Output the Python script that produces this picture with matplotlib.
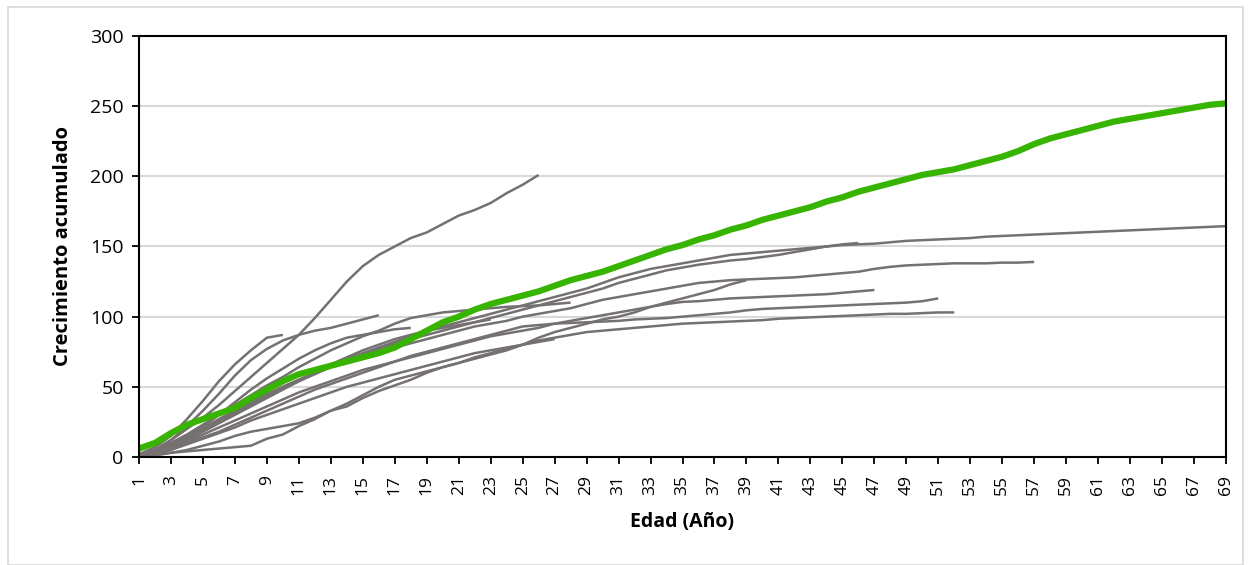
import numpy as np
import matplotlib
matplotlib.use("Agg")
import matplotlib.pyplot as plt
from matplotlib.patches import Rectangle

plt.rcParams['font.family'] = ['Open Sans', 'DejaVu Sans']

# edad (años) 1..69
edad = list(range(1, 70))

# curva promedio (verde)
promedio = [6, 10, 17, 23, 27, 31, 35, 42, 48, 54, 59, 62, 65, 68, 71, 74, 78, 84, 90, 96,
            100, 105, 109, 112, 115, 118, 122, 126, 129, 132, 136, 140, 144, 148, 151, 155, 158, 162, 165, 169,
            172, 175, 178, 182, 185, 189, 192, 195, 198, 201, 203, 205, 208, 211, 214, 218, 223, 227, 230, 233,
            236, 239, 241, 243, 245, 247, 249, 251, 252]

# arboles individuales (grises), cada uno empieza en edad 1
arbol_a = [1, 5, 12, 20, 28, 37, 47, 57, 67, 77, 87, 99, 112, 125, 136, 144, 150, 156, 160, 166,
           172, 176, 181, 188, 194, 201]
arbol_b = [1, 4, 9, 14, 20, 26, 32, 38, 44, 50, 55, 60, 65, 70, 74, 78, 82, 86, 90, 93,
           96, 99, 102, 105, 108, 111, 114, 117, 120, 124, 128, 131, 134, 136, 138, 140, 142, 144, 145, 146,
           147, 148, 149, 150, 151, 151.5, 152, 153, 154, 154.5, 155, 155.5, 156, 157, 157.5, 158, 158.5, 159, 159.5, 160,
           160.5, 161, 161.5, 162, 162.5, 163, 163.5, 164, 164.5]
arbol_c = [1, 4, 9, 15, 21, 27, 33, 39, 45, 50, 55, 60, 65, 69, 73, 77, 81, 84, 87, 90,
           93, 96, 99, 102, 105, 108, 111, 114, 117, 120, 124, 127, 130, 133, 135, 137, 138.5, 140, 141, 142.5,
           144, 146, 148, 150, 151.5, 152.5]
arbol_d = [1, 3, 8, 13, 19, 25, 31, 37, 43, 49, 54, 59, 64, 68, 72, 75, 78, 81, 84, 87,
           90, 93, 95, 97, 100, 102, 104, 106, 109, 112, 114, 116, 118, 120, 122, 124, 125, 126, 126.5, 127,
           127.5, 128, 129, 130, 131, 132, 134, 135.5, 136.5, 137, 137.5, 138, 138, 138, 138.5, 138.5, 139]
arbol_e = [0, 2, 3, 4, 5, 6, 7, 8, 13, 16, 22, 27, 33, 36, 42, 47, 51, 55, 60, 64,
           67, 71, 74, 77, 80, 85, 89, 92, 95, 98, 100, 103, 107, 110, 113, 116, 119, 123, 126]
arbol_f = [1, 3, 7, 11, 16, 21, 26, 31, 36, 41, 46, 50, 54, 58, 62, 65, 68, 71, 74, 77,
           80, 83, 86, 88, 90, 92, 95, 97, 99, 101, 103, 105, 107, 109, 110.5, 111, 112, 113, 113.5, 114,
           114.5, 115, 115.5, 116, 117, 118, 119]
arbol_g = [0, 1, 3, 5, 8, 11, 15, 18, 20, 22, 24, 28, 33, 38, 44, 50, 55, 58, 61, 64,
           67, 70, 73, 76, 80, 83, 85, 87, 89, 90, 91, 92, 93, 94, 95, 95.5, 96, 96.5, 97, 97.5,
           98.5, 99, 99.5, 100, 100.5, 101, 101.5, 102, 102, 102.5, 103, 103]
arbol_h = [1, 3, 6, 10, 14, 18, 23, 28, 33, 38, 43, 48, 52, 56, 60, 64, 68, 72, 75, 78,
           81, 84, 87, 90, 93, 94, 95, 95.5, 96, 96.5, 97, 98, 98.5, 99, 100, 101, 102, 103, 104.5, 105.5,
           106, 106.5, 107, 107.5, 108, 108.5, 109, 109.5, 110, 111, 113]
arbol_i = [1, 4, 10, 16, 23, 30, 37, 44, 51, 57, 64, 70, 76, 81, 86, 90, 95, 99, 101, 103,
           104, 105, 106, 107, 107.5, 108, 109, 110]
arbol_j = [0, 2, 5, 9, 13, 17, 21, 26, 30, 34, 38, 42, 46, 50, 53, 56, 59, 62, 65, 68,
           71, 74, 76, 78, 80, 82, 84]
arbol_k = [1, 3, 7, 12, 18, 24, 30, 36, 42, 48, 54, 60, 66, 71, 76, 80, 84, 87, 90, 92,
           94, 96, 98]
arbol_l = [1, 4, 9, 15, 22, 30, 39, 48, 56, 63, 70, 76, 81, 85, 87, 89, 91, 92]
arbol_m = [1, 5, 12, 22, 33, 45, 58, 69, 77, 83, 87, 90, 92, 95, 98, 101]
arbol_n = [2, 7, 15, 27, 40, 54, 66, 76, 85, 87]

arboles = [arbol_a, arbol_b, arbol_c, arbol_d, arbol_e, arbol_f, arbol_g,
           arbol_h, arbol_i, arbol_j, arbol_k, arbol_l, arbol_m, arbol_n]

fig = plt.figure(figsize=(12.5, 5.65), dpi=100)
ax = fig.add_axes([0.1112, 0.1912, 0.8696, 0.7451])

for arbol in arboles:
    ax.plot(edad[:len(arbol)], arbol, color='#767171', lw=1.8, solid_capstyle='butt')
ax.plot(edad, promedio, color='#36B400', lw=4.5, solid_capstyle='butt')

ax.set_xlim(1, 69)
ax.set_ylim(0, 300)
ax.set_yticks(range(0, 301, 50))
ax.set_xticks(edad[::2])
ax.set_xticklabels([str(e) for e in edad[::2]], rotation=90, fontsize=12.5)
ax.tick_params(axis='y', labelsize=14, length=5, width=1.3, direction='out', pad=6)
ax.tick_params(axis='x', length=5, width=1.3, direction='out', pad=8)
ax.grid(axis='y', color='#D9D9D9', lw=1.5)
ax.set_axisbelow(True)
for s in ax.spines.values():
    s.set_color('black')
    s.set_linewidth(1.5)

ax.set_xlabel('Edad (Año)', fontsize=14, fontweight='bold', labelpad=12)
ax.set_ylabel('Crecimiento acumulado', fontsize=14.5, fontweight='bold', labelpad=12)

# marco exterior
fig.patches.append(Rectangle((0.006, 0.0), 0.988, 0.988, transform=fig.transFigure,
                             fill=False, edgecolor='#D9D9D9', lw=1.2))

fig.savefig('out.png', dpi=100)
